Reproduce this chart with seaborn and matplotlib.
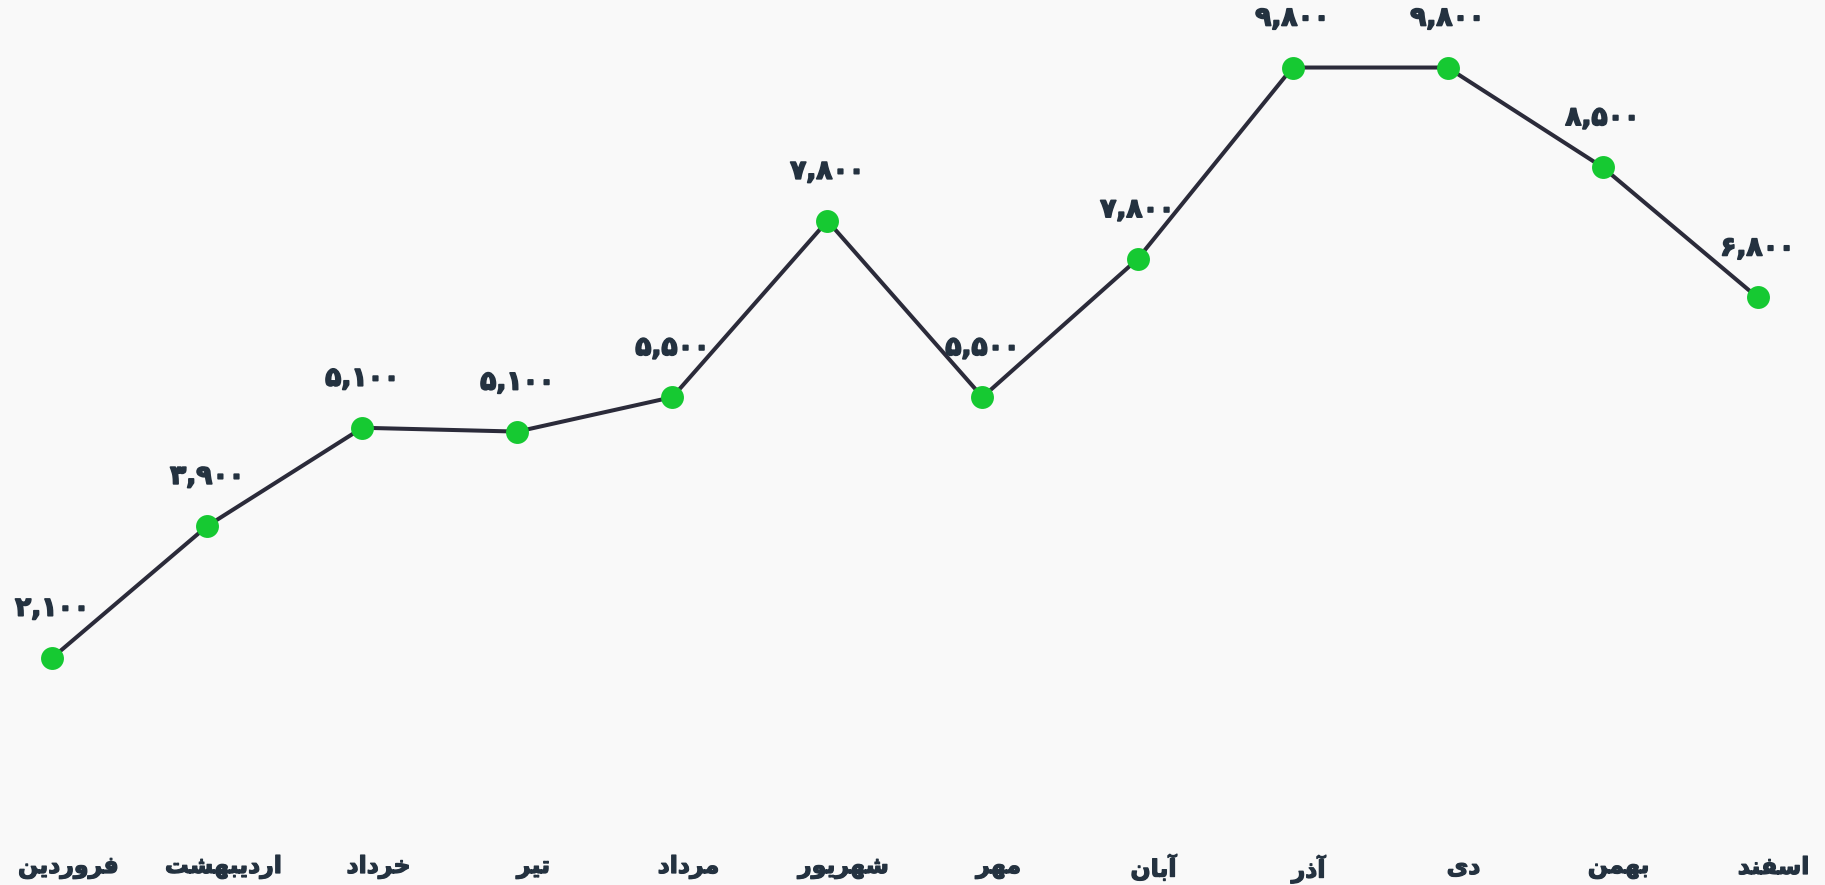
import matplotlib
matplotlib.use("Agg")
import matplotlib.pyplot as plt
import matplotlib.patheffects as pe
import matplotlib.transforms as mtransforms
import seaborn as sns
import pandas as pd

# ---- data ----
months = ["فروردین", "اردیبهشت", "خرداد", "تیر", "مرداد", "شهریور",
          "مهر", "آبان", "آذر", "دی", "بهمن", "اسفند"]
values = [2100, 3820, 5100, 5050, 5500, 7800, 5500, 7300, 9800, 9800, 8500, 6800]
value_labels = ["۲,۱۰۰", "۳,۹۰۰", "۵,۱۰۰", "۵,۱۰۰", "۵,۵۰۰", "۷,۸۰۰",
                "۵,۵۰۰", "۷,۸۰۰", "۹,۸۰۰", "۹,۸۰۰", "۸,۵۰۰", "۶,۸۰۰"]

# ---- minimal Arabic-script shaping (presentation forms) ----
FORMS = {
    '\u0627': ('\uFE8D', '\uFE8E', None, None),        # alef
    '\u0622': ('\uFE81', '\uFE82', None, None),        # alef madda
    '\u0628': ('\uFE8F', '\uFE90', '\uFE91', '\uFE92'),  # beh
    '\u062A': ('\uFE95', '\uFE96', '\uFE97', '\uFE98'),  # teh
    '\u062E': ('\uFEA5', '\uFEA6', '\uFEA7', '\uFEA8'),  # khah
    '\u062F': ('\uFEA9', '\uFEAA', None, None),        # dal
    '\u0630': ('\uFEAB', '\uFEAC', None, None),        # thal
    '\u0631': ('\uFEAD', '\uFEAE', None, None),        # reh
    '\u0633': ('\uFEB1', '\uFEB2', '\uFEB3', '\uFEB4'),  # seen
    '\u0634': ('\uFEB5', '\uFEB6', '\uFEB7', '\uFEB8'),  # sheen
    '\u0641': ('\uFED1', '\uFED2', '\uFED3', '\uFED4'),  # feh
    '\u0645': ('\uFEE1', '\uFEE2', '\uFEE3', '\uFEE4'),  # meem
    '\u0646': ('\uFEE5', '\uFEE6', '\uFEE7', '\uFEE8'),  # noon
    '\u0647': ('\uFEE9', '\uFEEA', '\uFEEB', '\uFEEC'),  # heh
    '\u0648': ('\uFEED', '\uFEEE', None, None),        # waw
    '\u06CC': ('\uFBFC', '\uFBFD', '\uFBFE', '\uFBFF'),  # farsi yeh
}


def shape(word):
    out = []
    n = len(word)
    for i, c in enumerate(word):
        if c not in FORMS:
            out.append(c)
            continue
        iso, fin, ini, med = FORMS[c]
        prev_joins = i > 0 and word[i - 1] in FORMS and FORMS[word[i - 1]][2] is not None
        join_next = ini is not None and i < n - 1 and word[i + 1] in FORMS
        if prev_joins and join_next:
            out.append(med)
        elif prev_joins:
            out.append(fin)
        elif join_next:
            out.append(ini)
        else:
            out.append(iso)
    return "".join(reversed(out))


# ---- style ----
BG = "#f9f9f9"
TEXT = "#243240"
LINE = "#2b2b3a"
GREEN = "#16c932"

sns.set_theme(style="white")
plt.rcParams["font.family"] = ["DejaVu Sans"]

W, H, DPI = 1825, 885, 100
fig = plt.figure(figsize=(W / DPI, H / DPI), dpi=DPI, facecolor=BG)
ax = fig.add_axes([0, 55 / H, 1, 830 / H])
ax.set_facecolor(BG)

df = pd.DataFrame({"idx": list(range(len(months))), "value": values})
sns.lineplot(data=df, x="idx", y="value", ax=ax, color=LINE, linewidth=2.9,
             marker="o", markersize=16.5, markerfacecolor=GREEN,
             markeredgewidth=0, zorder=3)

bold = [pe.withStroke(linewidth=1.2, foreground=TEXT)]
for i, (v, lab) in enumerate(zip(values, value_labels)):
    ax.annotate(lab, (i, v), xytext=(0, 49), textcoords="offset pixels",
                ha="center", va="center", fontsize=19, fontweight="bold",
                color=TEXT, path_effects=bold)

ax.set_xlim(-0.338, 11.435)
ax.set_ylim(-148, 10681)
ax.set_xticks(range(len(months)))
ax.set_xticklabels([shape(m) for m in months], fontsize=17, fontweight="bold",
                   color=TEXT, path_effects=[pe.withStroke(linewidth=0.9, foreground=TEXT)])
ax.tick_params(axis="x", length=0, pad=18)
shift = mtransforms.ScaledTranslation(16 / DPI, 0, fig.dpi_scale_trans)
for t in ax.get_xticklabels():
    t.set_transform(t.get_transform() + shift)
ax.set_yticks([])
ax.set_xlabel("")
ax.set_ylabel("")
for s in ax.spines.values():
    s.set_visible(False)

fig.savefig("out.png", dpi=DPI, facecolor=BG)
